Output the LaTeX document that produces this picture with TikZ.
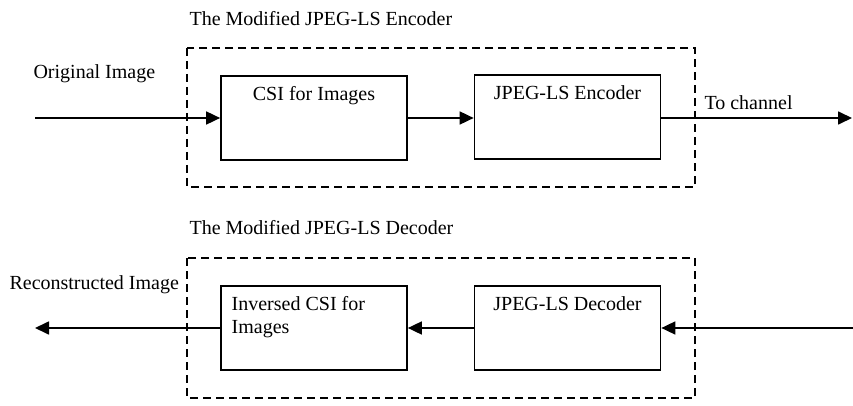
\documentclass[tikz,border=0pt]{standalone}
\usepackage{fontspec}
\setmainfont{Liberation Serif}
\usetikzlibrary{arrows.meta}
\begin{document}
\begin{tikzpicture}[x=1pt, y=-1pt, font=\fontsize{20}{23}\selectfont,
    blk/.style={draw, line width=1.7pt, minimum width=186pt, minimum height=84pt, inner sep=0pt},
    grp/.style={line width=1.7pt, dash pattern=on 8pt off 5pt},
    arr/.style={line width=1.7pt, -{Triangle[length=14pt,width=13pt]}}]
\useasboundingbox (0,0) rectangle (853,406);
% encoder
\node[anchor=west] (enctitle) at (186,19) {The Modified JPEG-LS Encoder};
\draw[grp](187,48) rectangle (695,187);
\node[blk, label={[anchor=north, yshift=-8pt]north:CSI for Images}] (csi) at (314,118) {};
\node[blk, label={[anchor=north, yshift=-8pt]north:JPEG-LS Encoder}] (jenc) at (567.5,117) {};
\coordinate (orig) at (35,118);
\coordinate (chan) at (852,118);
\node[anchor=west] (origlbl) at (30,74) {Original Image};
\node[anchor=west] (chanlbl) at (701,103) {To channel};
\draw[arr](orig)--(csi);
\draw[arr](csi)--(csi -| jenc.west);
\draw[arr](jenc.east |- chan)--(chan);
% decoder
\node[anchor=west] (dectitle) at (186,228) {The Modified JPEG-LS Decoder};
\draw[grp](187,258) rectangle (695,398);
\node[blk, label={[anchor=north west, align=left, xshift=8pt, yshift=-8pt]north west:Inversed CSI for\\Images}] (icsi) at (314,328) {};
\node[blk, label={[anchor=north, yshift=-8pt]north:JPEG-LS Decoder}] (jdec) at (567.5,328) {};
\coordinate (rec) at (35,328);
\coordinate (rchan) at (853,328);
\node[anchor=west] (reclbl) at (6,285) {Reconstructed Image};
\draw[arr](rchan)--(jdec);
\draw[arr](jdec)--(icsi);
\draw[arr](icsi)--(rec);
\end{tikzpicture}
\end{document}
